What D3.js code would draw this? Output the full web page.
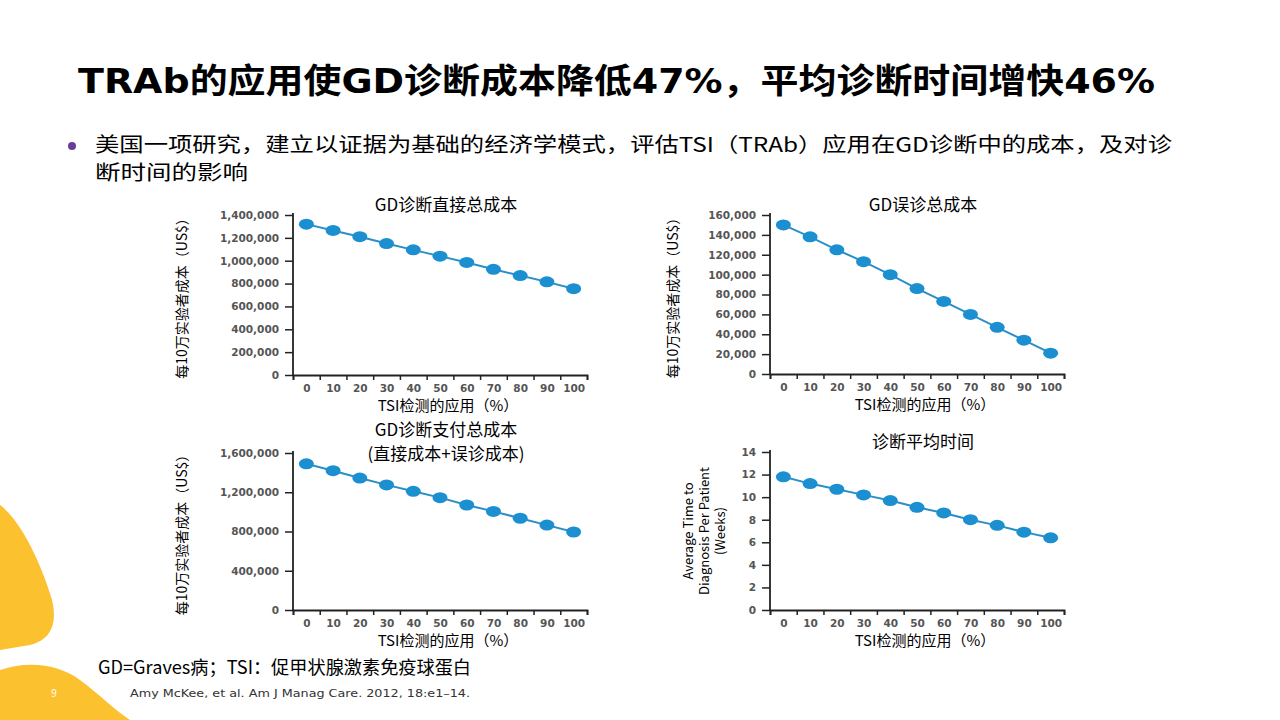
<!DOCTYPE html>
<html><head><meta charset="utf-8">
<script src="https://cdn.jsdelivr.net/npm/d3@7"></script>
<style>body{margin:0;background:#fff}svg{display:block;font-family:"Noto Sans CJK SC","Noto Sans",sans-serif}</style>
</head><body><svg id="s" width="1280" height="720"></svg>
<script>
const usage = [0, 10, 20, 30, 40, 50, 60, 70, 80, 90, 100];
const directCost = [1320000, 1265000, 1210000, 1150000, 1095000, 1040000, 985000, 925000, 870000, 815000, 755000];
const misdiagCost = [150000, 138000, 125000, 113000, 100000, 86000, 73000, 60000, 47000, 34000, 21000];
const payerCost = [1490000, 1420000, 1345000, 1275000, 1210000, 1145000, 1070000, 1005000, 935000, 865000, 795000];
const avgWeeks = [11.8, 11.2, 10.7, 10.2, 9.7, 9.1, 8.6, 8.0, 7.5, 6.9, 6.4];
const yTicksDirect = d3.range(0, 1400001, 200000);
const yTicksMis = d3.range(0, 160001, 20000);
const yTicksPayer = d3.range(0, 1600001, 400000);
const yTicksWeeks = d3.range(0, 15, 2);

const svg = d3.select('#s');

// background decorations
svg.append('path').attr('fill', '#fcc12f')
  .attr('d', 'M0,505 C20,520 40,560 52,600 C58,625 50,640 30,645 L0,650 Z');
svg.append('path').attr('fill', '#fcc12f')
  .attr('d', 'M0,670 C30,660 60,665 80,680 C100,695 115,710 130,720 L0,720 Z');
svg.append('text').attr('x', 54).attr('y', 697).attr('fill', '#fff').attr('font-size', 10)
  .attr('text-anchor', 'middle').text('9');

// title
svg.append('text').attr('x', 78).attr('y', 93).attr('font-size', 34).attr('font-weight', 'bold')
  .attr('font-family', '"DejaVu Sans", "Noto Sans CJK SC", sans-serif')
  .attr('textLength', 1077).attr('lengthAdjust', 'spacingAndGlyphs')
  .text('TRAb的应用使GD诊断成本降低47%，平均诊断时间增快46%');
svg.append('circle').attr('cx', 72).attr('cy', 146).attr('r', 4).attr('fill', '#6a3d9a');
svg.append('text').attr('x', 95).attr('y', 152).attr('font-size', 20)
  .attr('textLength', 1077).attr('lengthAdjust', 'spacingAndGlyphs')
  .text('美国一项研究，建立以证据为基础的经济学模式，评估TSI（TRAb）应用在GD诊断中的成本，及对诊');
svg.append('text').attr('x', 95).attr('y', 180).attr('font-size', 20)
  .attr('textLength', 153).attr('lengthAdjust', 'spacingAndGlyphs').text('断时间的影响');

svg.append('text').attr('x', 98).attr('y', 674).attr('font-size', 18)
  .attr('textLength', 373).attr('lengthAdjust', 'spacingAndGlyphs')
  .text('GD=Graves病；TSI：促甲状腺激素免疫球蛋白');
svg.append('text').attr('x', 130).attr('y', 697).attr('font-size', 11).attr('fill', '#333')
  .attr('font-family', 'Verdana, "DejaVu Sans", sans-serif')
  .attr('textLength', 340).attr('lengthAdjust', 'spacingAndGlyphs')
  .text('Amy McKee, et al. Am J Manag Care. 2012, 18:e1–14.');

function chart(o) {
  const g = svg.append('g');
  const x = d3.scaleLinear().domain([-5, 105]).range([o.x0, o.x0 + 294]);
  const y = d3.scaleLinear().domain([0, o.max]).range([o.y1, o.y0]);
  const tickFont = g => g.selectAll('text').attr('font-family', '"DejaVu Sans", Verdana, sans-serif')
    .attr('font-weight', 'bold').attr('font-size', 10.5).attr('fill', '#555');

  // y axis
  g.append('g').attr('transform', `translate(${o.x0},0)`)
    .call(d3.axisLeft(y).tickValues(o.ticks).tickSize(8).tickPadding(6)
      .tickFormat(o.fmt || d3.format(',')))
    .call(a => a.select('.domain').attr('stroke', '#222').attr('stroke-width', 1.8).attr('d', `M0,${o.y1}V${o.y0 - 2}`))
    .call(a => a.selectAll('line').attr('stroke', '#222').attr('stroke-width', 1.5))
    .call(tickFont);

  // x axis: marks between labels
  g.append('g').attr('transform', `translate(0,${o.y1})`)
    .call(d3.axisBottom(x).tickValues(d3.range(-5, 106, 10)).tickSize(5).tickFormat(''))
    .call(a => a.select('.domain').attr('stroke', '#222').attr('stroke-width', 1.8))
    .call(a => a.selectAll('line').attr('stroke', '#222').attr('stroke-width', 1.5));
  g.append('g').attr('transform', `translate(0,${o.y1})`)
    .call(d3.axisBottom(x).tickValues(usage).tickSize(0).tickPadding(10))
    .call(a => a.select('.domain').remove())
    .call(tickFont);

  const pts = usage.map((u, i) => [x(u), y(o.data[i])]);
  g.append('path').attr('d', d3.line()(pts)).attr('fill', 'none')
    .attr('stroke', '#2a8fc9').attr('stroke-width', 2);
  g.selectAll('ellipse').data(pts).join('ellipse')
    .attr('cx', d => d[0]).attr('cy', d => d[1]).attr('rx', 7.5).attr('ry', 5.5).attr('fill', '#1c8fd0');

  o.title.forEach((t, i) => g.append('text').attr('x', o.x0 + 153).attr('y', o.ty + i * 24)
    .attr('text-anchor', 'middle').attr('font-size', 17).text(t));
  g.append('text').attr('x', o.x0 + 155).attr('y', o.y1 + 36).attr('text-anchor', 'middle')
    .attr('font-size', 15).text('TSI检测的应用（%）');
  o.ylab.forEach((t, i, arr) => g.append('text')
    .attr('transform', `translate(${o.x0 - o.ly + i * 16 - (arr.length - 1) * 8},${(o.y0 + o.y1) / 2})rotate(-90)`)
    .attr('text-anchor', 'middle').attr('font-size', o.ylabSize || 14).text(t));
}

chart({ x0: 293, y0: 215, y1: 375, max: 1400000, ticks: yTicksDirect, data: directCost,
  title: ['GD诊断直接总成本'], ty: 211, ylab: ['每10万实验者成本（US$）'], ly: 106 });
chart({ x0: 770, y0: 215, y1: 374, max: 160000, ticks: yTicksMis, data: misdiagCost,
  title: ['GD误诊总成本'], ty: 211, ylab: ['每10万实验者成本（US$）'], ly: 92 });
chart({ x0: 293, y0: 453, y1: 610, max: 1600000, ticks: yTicksPayer, data: payerCost,
  title: ['GD诊断支付总成本', '(直接成本+误诊成本)'], ty: 436, ylab: ['每10万实验者成本（US$）'], ly: 106 });
chart({ x0: 770, y0: 452, y1: 610, max: 14, ticks: yTicksWeeks, data: avgWeeks, fmt: d3.format('d'),
  title: ['诊断平均时间'], ty: 448,
  ylab: ['Average Time to', 'Diagnosis Per Patient', '(Weeks)'], ly: 61, ylabSize: 13 });
</script>
</body></html>
